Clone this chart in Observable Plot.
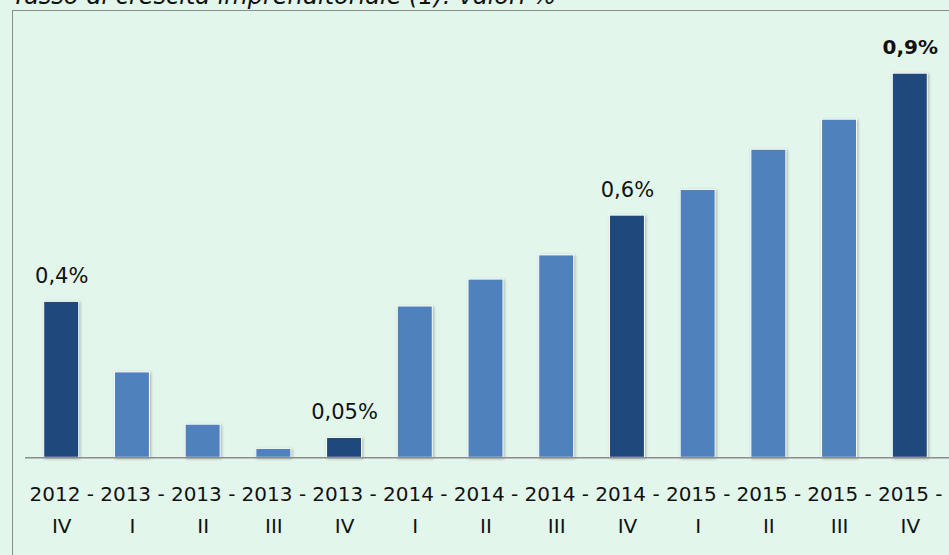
<!DOCTYPE html>
<html>
<head>
<meta charset="utf-8">
<script src="https://cdn.jsdelivr.net/npm/d3@7"></script>
<script src="https://cdn.jsdelivr.net/npm/@observablehq/plot@0.6"></script>
<style>
  html, body { margin: 0; padding: 0; background: #e3f6eb; overflow: hidden; width: 949px; height: 555px; }
  #wrap { position: relative; width: 949px; height: 555px; overflow: hidden; }
  #title { position: absolute; left: 12px; top: -16px; font: italic 24px/24px "DejaVu Sans", sans-serif; color: #111; white-space: nowrap; }
  #frame { position: absolute; left: 12px; top: 10px; width: 1000px; height: 700px; border: 1.5px solid #8c8c8c; box-sizing: border-box; }
  #chart { position: absolute; left: 0; top: 0; }
  #chart svg { background: transparent; }
  .bars rect { filter: drop-shadow(1px 1px 1.5px rgba(0,0,0,0.28)); }
</style>
</head>
<body>
<div id="wrap">
  <div id="frame"></div>
  <div id="title">Tasso di crescita imprenditoriale (1): valori %</div>
  <div id="chart"></div>
</div>
<script>
const categories = ["2012 - IV", "2013 - I", "2013 - II", "2013 - III", "2013 - IV", "2014 - I", "2014 - II", "2014 - III", "2014 - IV", "2015 - I", "2015 - II", "2015 - III", "2015 - IV"];
const values = [0.400, 0.219, 0.085, 0.023, 0.051, 0.388, 0.457, 0.519, 0.621, 0.687, 0.790, 0.867, 0.985];
const highlighted = [true, false, false, false, true, false, false, false, true, false, false, false, true];
const labels = ["0,4%", "", "", "", "0,05%", "", "", "", "0,6%", "", "", "", "0,9%"];
const boldLabel = [false, false, false, false, false, false, false, false, false, false, false, false, true];

const data = categories.map((c, i) => ({cat: c, value: values[i], hi: highlighted[i], label: labels[i], bold: boldLabel[i]}));

const chart = Plot.plot({
  width: 949,
  height: 555,
  marginLeft: 25,
  marginRight: 0,
  marginTop: 10,
  marginBottom: 97.7,
  style: {background: "transparent", fontFamily: "DejaVu Sans, sans-serif"},
  x: {type: "band", domain: categories, range: [8, 963], paddingInner: 0.505, paddingOuter: 0.505, round: false, axis: null},
  y: {domain: [0, 1], range: [457.3, 67.3], axis: null},
  color: {domain: [true, false], range: ["#1f497d", "#4f81bd"]},
  marks: [
    Plot.barY(data, {x: "cat", y: "value", fill: "hi", stroke: "white", strokeWidth: 1, className: "bars"}),
    Plot.ruleY([0], {stroke: "#8c8c8c", strokeWidth: 1.5}),
    Plot.axisX({
      anchor: "bottom",
      label: null,
      tickSize: 0,
      tickPadding: 20,
      fontSize: 20,
      lineHeight: 1.6,
      fill: "#111",
      tickFormat: d => d.replace(" - ", " -\n")
    }),
    Plot.text(data.filter(d => d.label && !d.bold), {x: "cat", y: "value", text: "label", lineAnchor: "bottom", dy: -19, fontSize: 21, fill: "#111"}),
    Plot.text(data.filter(d => d.label && d.bold), {x: "cat", y: "value", text: "label", lineAnchor: "bottom", dy: -20, fontSize: 20, fontWeight: "bold", fill: "#111"})
  ]
});
document.getElementById("chart").appendChild(chart);
</script>
</body>
</html>
